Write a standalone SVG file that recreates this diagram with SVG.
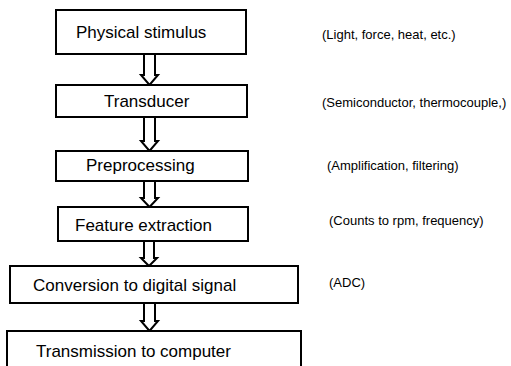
<svg xmlns="http://www.w3.org/2000/svg" width="511" height="366" viewBox="0 0 511 366">
  <style>
    .box { fill: #ffffff; stroke: #000000; stroke-width: 2; }
    .step { font-family: "Liberation Sans", Arial, sans-serif; font-size: 17px; fill: #000000; }
    .note { font-family: "Liberation Sans", Arial, sans-serif; font-size: 13px; fill: #000000; }
    .flow { fill: #ffffff; stroke: #000000; stroke-width: 2; stroke-linejoin: miter; }
  </style>
  <rect width="511" height="366" fill="#ffffff"/>

  <!-- hollow block arrows between the stages -->
  <g id="connectors">
    <path class="flow" d="M144,54 V75 H141 L149.5,85 L158,75 H155 V54"/>
    <path class="flow" d="M144,117 V141 H141 L149.5,151 L158,141 H155 V117"/>
    <path class="flow" d="M144,180 V198 H141 L149.5,207 L158,198 H155 V180"/>
    <path class="flow" d="M144,241 V258 H141 L149,266 L157,258 H154 V241"/>
    <path class="flow" d="M144,303 V321 H141 L149.5,331 L158,321 H155 V303"/>
  </g>

  <g id="physical-stimulus">
    <rect class="box" x="56" y="10" width="190" height="44"/>
    <text class="step" x="76" y="38">Physical stimulus</text>
  </g>
  <g id="transducer">
    <rect class="box" x="56" y="85" width="191" height="32"/>
    <text class="step" x="104" y="107">Transducer</text>
  </g>
  <g id="preprocessing">
    <rect class="box" x="56" y="151" width="192" height="30"/>
    <text class="step" x="86" y="171">Preprocessing</text>
  </g>
  <g id="feature-extraction">
    <rect class="box" x="58" y="207" width="190" height="34"/>
    <text class="step" x="75" y="231">Feature extraction</text>
  </g>
  <g id="conversion">
    <rect class="box" x="10" y="266" width="288" height="37"/>
    <text class="step" x="33" y="291">Conversion to digital signal</text>
  </g>
  <g id="transmission">
    <rect class="box" x="7" y="331" width="294" height="44"/>
    <text class="step" x="36" y="357">Transmission to computer</text>
  </g>

  <!-- side notes -->
  <g id="notes">
    <text class="note" x="322" y="39">(Light, force, heat, etc.)</text>
    <text class="note" x="322" y="107">(Semiconductor, thermocouple,)</text>
    <text class="note" x="327" y="170">(Amplification, filtering)</text>
    <text class="note" x="329" y="225">(Counts to rpm, frequency)</text>
    <text class="note" x="329" y="287">(ADC)</text>
  </g>
</svg>
